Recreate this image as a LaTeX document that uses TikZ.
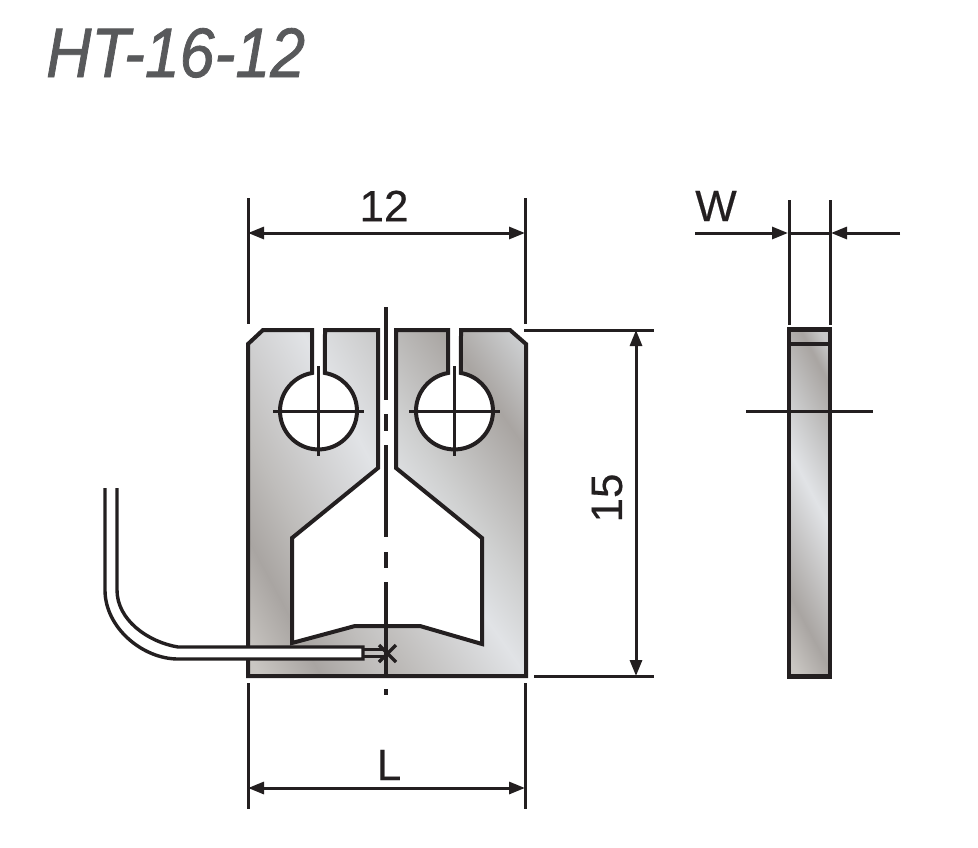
\documentclass[tikz,border=0pt]{standalone}
\usepackage{fontspec}
\setmainfont{Liberation Sans}
\newfontfamily\titlefont[FakeBold=1.2]{Liberation Sans}
\newfontfamily\dimfont[FakeBold=0.4]{Liberation Sans}
\usetikzlibrary{arrows.meta}
\definecolor{ink}{HTML}{231F20}
\definecolor{titlegrey}{HTML}{58595B}
\definecolor{mA}{HTML}{C9C6C2}
\definecolor{mB}{HTML}{A9A5A2}
\definecolor{mC}{HTML}{BFBDBB}
\definecolor{mD}{HTML}{D0D0D1}
\definecolor{mE}{HTML}{E1E3E6}
\definecolor{mF}{HTML}{C8C8C8}
\definecolor{mG}{HTML}{B8B5B2}
\definecolor{mH}{HTML}{CFD0D0}
\definecolor{mI}{HTML}{CDCFD1}
\definecolor{mJ}{HTML}{C5C5C5}
\pgfdeclarehorizontalshading{metalL}{100bp}{
  color(0bp)=(mA); color(30.6bp)=(mA); color(36bp)=(mB); color(40.9bp)=(mC);
  color(45.6bp)=(mD); color(50.5bp)=(mE); color(57.4bp)=(mF); color(100bp)=(mF)}
\pgfdeclarehorizontalshading{metalR}{100bp}{
  color(0bp)=(mG); color(40.5bp)=(mG); color(51.5bp)=(mE); color(56bp)=(mH);
  color(64.5bp)=(mB); color(70.3bp)=(mI); color(100bp)=(mI)}
\pgfdeclarehorizontalshading{metalS}{100bp}{
  color(0bp)=(mA); color(40.8bp)=(mA); color(43.9bp)=(mB); color(50.6bp)=(mE);
  color(53.9bp)=(mJ); color(57.3bp)=(mB); color(59bp)=(mF); color(100bp)=(mF)}
\newcommand{\bodyoutline}{(248,-344) -- (263,-330) -- (312,-330) -- (312,-373)
  arc[start angle=99.7,delta angle=340.6,radius=38.5] -- (325,-330) -- (378,-330)
  -- (378,-468) -- (292,-538) -- (292,-643) -- (355,-626) -- (420,-626)
  -- (482,-644) -- (482,-538) -- (396,-468) -- (396,-330) -- (448,-330) -- (448,-373)
  arc[start angle=99.7,delta angle=340.6,radius=38.5] -- (461,-330) -- (510,-330)
  -- (526,-344) -- (526,-676) -- (248,-676) -- cycle}
\tikzset{
  outline/.style={draw=ink,line width=4pt,line join=miter},
  thinline/.style={draw=ink,line width=3pt},
  cline/.style={draw=ink,line width=3.6pt},
  dimline/.style={draw=ink,line width=3pt,{Triangle[length=16pt,width=12pt]}-{Triangle[length=16pt,width=12pt]}},
  oneway/.style={draw=ink,line width=3pt,-{Triangle[length=16pt,width=12pt]}},
  dimtext/.style={text=ink,font=\dimfont\fontsize{44}{44}\selectfont,inner sep=0pt},
}
\begin{document}
\begin{tikzpicture}[x=1pt,y=1pt]
\useasboundingbox (0,0) rectangle (978,-847);
\fill[white] (0,0) rectangle (978,-847);
% title
\node[name=title,text=titlegrey,inner sep=0pt,anchor=base west,xscale=0.895,font=\titlefont\fontsize{70}{70}\selectfont\itshape] at (46,-77) {HT-16-12};
% metal body, left and right halves
\begin{scope}
  \clip (240,-320) rectangle (387,-690);
  \clip \bodyoutline;
  \shade[shading=metalL,shading angle=28] (137,-253) rectangle (637,-753);
\end{scope}
\begin{scope}
  \clip (387,-320) rectangle (535,-690);
  \clip \bodyoutline;
  \shade[shading=metalR,shading angle=35] (137,-253) rectangle (637,-753);
\end{scope}
\draw[outline] \bodyoutline;
% side view
\begin{scope}
  \clip (789,-329.5) rectangle (830,-676.5);
  \shade[shading=metalS,shading angle=28] (560,-253) rectangle (1060,-753);
\end{scope}
\coordinate (sideTL) at (789,-329.5);
\coordinate (sideBR) at (830,-676.5);
\coordinate (sideML) at (789,-344);
\coordinate (sideMR) at (830,-344);
\draw[draw=ink,line width=4.2pt] (sideTL) rectangle (sideBR);
\draw[draw=ink,line width=4pt] (sideML) -- (sideMR);
% hole centre marks
\foreach \cx/\nm in {318.5/a,454.5/b}{
  \coordinate (h\nm W) at (\cx-45.5,-411);
  \coordinate (h\nm E) at (\cx+45.5,-411);
  \coordinate (h\nm N) at (\cx,-366);
  \coordinate (h\nm S) at (\cx,-456);
  \draw[thinline] (h\nm W) -- (h\nm E);
  \draw[thinline] (h\nm N) -- (h\nm S);
}
% centre line
\foreach \ya/\yb in {307/400,414/431,445/537,552/568,582/677,689/695}{
  \draw[cline] (386,-\ya) -- (386,-\yb);
}
% wire
\draw[draw=ink,line width=3.4pt,fill=white] (105,-488) -- (105,-590)
  .. controls (105,-628) and (143,-659) .. (178,-659) -- (363,-659) -- (363,-647) -- (178,-647)
  .. controls (148,-642) and (117,-620) .. (117,-590) -- (117,-488);
\coordinate (leadA1) at (363,-649.5);
\coordinate (leadA2) at (386,-649.5);
\coordinate (leadB1) at (363,-656);
\coordinate (leadB2) at (386,-656);
\draw[draw=ink,line width=3pt] (leadA1) -- (leadA2);
\draw[draw=ink,line width=3pt] (leadB1) -- (leadB2);
\coordinate (xa) at (379,-645);
\coordinate (xb) at (396,-662);
\coordinate (xc) at (379,-662);
\coordinate (xd) at (396,-645);
\draw[draw=ink,line width=3.4pt] (xa) -- (xb);
\draw[draw=ink,line width=3.4pt] (xc) -- (xd);
% extension lines
\coordinate (e1a) at (248,-198); \coordinate (e1b) at (248,-324);
\coordinate (e2a) at (525,-198); \coordinate (e2b) at (525,-324);
\coordinate (e3a) at (248,-683); \coordinate (e3b) at (248,-809);
\coordinate (e4a) at (525,-683); \coordinate (e4b) at (525,-809);
\coordinate (e5a) at (524,-330); \coordinate (e5b) at (654,-330);
\coordinate (e6a) at (534,-676); \coordinate (e6b) at (654,-676);
\coordinate (e7a) at (789,-200); \coordinate (e7b) at (789,-325);
\coordinate (e8a) at (830,-200); \coordinate (e8b) at (830,-325);
\foreach \p/\q in {e1a/e1b,e2a/e2b,e3a/e3b,e4a/e4b,e5a/e5b,e6a/e6b,e7a/e7b,e8a/e8b}{
  \draw[thinline] (\p) -- (\q);
}
% dimensions
\coordinate (d1a) at (248,-233); \coordinate (d1b) at (525,-233);
\coordinate (d2a) at (248,-788); \coordinate (d2b) at (525,-788);
\coordinate (d3a) at (636,-330); \coordinate (d3b) at (636,-676);
\draw[dimline] (d1a) -- (d1b);
\draw[dimline] (d2a) -- (d2b);
\draw[dimline] (d3a) -- (d3b);
\coordinate (w1) at (695,-233); \coordinate (w2) at (788,-233);
\coordinate (w3) at (900,-233); \coordinate (w4) at (831,-233);
\draw[oneway] (w1) -- (w2);
\draw[oneway] (w3) -- (w4);
\draw[thinline] (w2) -- (w4);
\coordinate (cs1) at (746,-411); \coordinate (cs2) at (873,-411);
\draw[thinline] (cs1) -- (cs2);
% labels
\node[dimtext,name=lab12] at (384,-206) {12};
\node[dimtext,name=lab15,rotate=90] at (607,-498) {15};
\node[dimtext,name=labL] at (389,-765) {L};
\node[dimtext,name=labW] at (716,-206) {W};
\end{tikzpicture}
\end{document}
